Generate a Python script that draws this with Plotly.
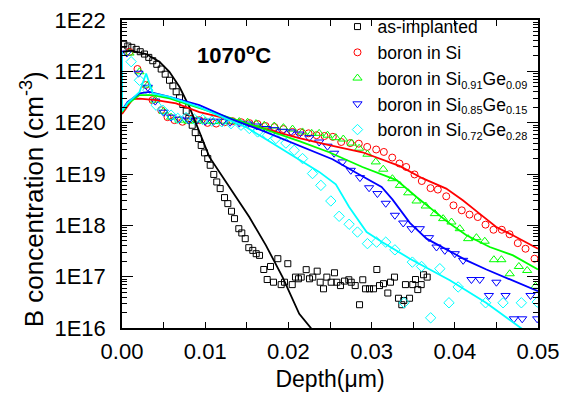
import plotly.graph_objects as go

# ---------------- data ----------------
as_x = [0.00022,0.0007,0.00118,0.00171,0.00219,0.0027,0.00322,0.0037,0.00418,0.00471,
        0.00519,0.00571,0.00611,0.00651,0.00691,0.00731,0.00772,0.00803,0.00844,0.0088,
        0.00919,0.00952,0.00992,0.01031,0.0106,0.01103,0.01139,0.0118,0.01232,0.01272,
        0.01316,0.01352,0.01404,0.0144,0.01481,0.01524,0.01572,0.01613,0.01653,0.01704,
        0.01745,0.01785,0.01821,0.01873,0.01913,0.01953,0.01993,0.02046,0.02085,0.02121,
        0.02154,0.02214,0.02254,0.02293,0.02346,0.02382,0.02422,0.02462,0.02514,0.02554,
        0.02582,0.02626,0.02674,0.02726,0.02755,0.02803,0.02855,0.02894,0.02927,0.02975,
        0.03023,0.03063,0.03095,0.03143,0.03195,0.03227,0.03275,0.03323,0.03363,0.03387,
        0.03407,0.03456,0.03495,0.03528,0.03555,0.03596,0.03624,0.03668]
as_y = [3.36e21,3.11e21,2.93e21,2.68e21,2.41e21,2.17e21,1.87e21,1.61e21,1.37e21,1.11e21,
        8.8e20,6.7e20,5.2e20,4.0e20,3.05e20,2.26e20,1.68e20,1.21e20,8.9e19,6.4e19,
        4.9e19,3.6e19,2.58e19,2.0e19,1.48e19,9.8e18,7.0e18,5.2e18,3.47e18,2.65e18,
        1.88e18,1.35e18,8.6e17,7.1e17,5.5e17,3.67e17,3.25e17,2.8e17,2.6e17,1.38e17,
        8.8e16,1.58e17,7.8e16,2.24e17,7.0e16,7.8e16,1.79e17,7.0e16,9.8e16,9.1e16,
        9.8e16,1.37e17,9.1e16,9.8e16,1.28e17,7.8e16,5.8e16,9.8e16,7.8e16,1.19e17,
        7.8e16,6.7e16,8.2e16,8.7e16,7.8e16,6.7e16,2.84e16,8.7e16,5.8e16,5.8e16,
        5.8e16,1.38e17,6.7e16,7.3e16,4.8e16,7.8e16,9.8e16,3.8e16,2.84e16,3.44e16,
        7.0e16,3.8e16,7.0e16,8.8e16,5.6e16,7.0e16,1.09e17,9.8e16]
as_fit_x = [0, 0.0011, 0.0029, 0.0045, 0.0057, 0.0069, 0.0081, 0.0093, 0.0105,
            0.0133, 0.0153, 0.0173, 0.0193, 0.0213, 0.0227, 0.0233]
as_fit_y = [2.38e21, 2.52e21, 2.17e21, 1.54e21, 9.8e20, 5.0e20, 2.03e20, 6.6e19, 2.15e19,
            4.47e18, 1.45e18, 4.07e17, 9.8e16, 1.89e16, 1.0e16, 6.5e15]

si_x = [0.0009,0.00186,0.00282,0.00367,0.00471,0.00547,0.00631,0.00727,0.00832,0.00931,
        0.01028,0.01132,0.01232,0.01328,0.01433,0.01532,0.01629,0.01725,0.01833,0.01941,
        0.02049,0.02145,0.02242,0.02338,0.02434,0.02534,0.02635,0.02743,0.02846,0.02947,
        0.03055,0.03147,0.03248,0.03335,0.03416,0.03516,0.03603,0.03708,0.03796,0.03897,
        0.03984,0.04084,0.04177,0.04276,0.04369,0.04465,0.04565,0.04658,0.04757,0.0485,0.04958]
si_y = [2.38e21,1.11e21,5.4e20,2.75e20,1.75e20,1.28e20,1.12e20,1.04e20,1.17e20,1.12e20,
        9.9e19,9.6e19,1.02e20,1.07e20,1.02e20,9.8e19,9.4e19,8.6e19,8.2e19,7.5e19,
        6.6e19,6.5e19,6.2e19,5.7e19,5.5e19,5.3e19,4.2e19,4.0e19,3.9e19,3.37e19,
        3.0e19,2.69e19,2.09e19,1.6e19,1.37e19,9.8e18,7.3e18,5.3e18,4.97e18,3.68e18,
        2.45e18,1.96e18,1.62e18,1.45e18,1.03e18,8.2e17,8.2e17,6.7e17,4.5e17,3.5e17,2.24e17]
si_fit_x = [0, 0.00066, 0.0013, 0.0021, 0.0041, 0.0065, 0.0093, 0.0129, 0.0165, 0.0213,
            0.0249, 0.0289, 0.0334, 0.03615, 0.03897, 0.04096, 0.04297, 0.04498, 0.04697, 0.05]
si_fit_y = [1.47e20, 2.1e20, 2.88e20, 2.94e20, 2.75e20, 2.37e20, 1.6e20, 1.17e20, 8.2e19, 5.0e19,
            3.64e19, 2.65e19, 1.42e19, 8.2e18, 5.2e18, 3.07e18, 1.69e18, 9.3e17, 6.4e17, 3.5e17]

ge09_x = [0.0009,0.0021,0.0031,0.004,0.005,0.0059,0.0069,0.008,0.009,0.01,
          0.011,0.0121,0.013,0.0141,0.0151,0.0161,0.0171,0.0183,0.0194,0.0205,
          0.0217,0.0228,0.0237,0.0247,0.0257,0.0266,0.0276,0.0285,0.0295,0.0305,
          0.0314,0.0325,0.0334,0.0344,0.0354,0.0365,0.0376,0.0386,0.0396,0.0406,
          0.0416,0.0426,0.0436,0.0447,0.0456,0.0466,0.0477,0.0487,0.0497]
ge09_y = [2.27e21,9.8e20,5.4e20,2.75e20,1.67e20,1.28e20,1.12e20,1.07e20,1.12e20,1.07e20,
          1.05e20,1.07e20,1.07e20,1.05e20,1.02e20,9.6e19,8.9e19,8.6e19,8.0e19,7.5e19,
          6.6e19,6.2e19,6.2e19,5.7e19,5.1e19,4.8e19,4.0e19,3.18e19,2.43e19,1.72e19,
          1.24e19,8.1e18,6.0e18,4.3e18,2.98e18,2.38e18,1.69e18,1.35e18,1.16e18,8.6e17,
          5.5e17,5.75e17,4.9e17,2.14e17,2.14e17,1.14e17,1.58e17,1.32e17,6.5e16]
ge09_fit_x = [0, 0.00066, 0.0021, 0.0037, 0.0057, 0.0093, 0.0153, 0.0213, 0.0249, 0.0289,
              0.033, 0.0354, 0.0374, 0.0394, 0.0414, 0.0442, 0.047, 0.05]
ge09_fit_y = [1.6e20, 2.3e20, 3.44e20, 3.44e20, 2.97e20, 1.92e20, 9.4e19, 4.36e19, 2.65e19, 1.37e19,
              7.6e18, 3.57e18, 1.96e18, 1.08e18, 6.4e17, 3.78e17, 2.6e17, 1.38e17]

ge15_x = [0.00058,0.00198,0.0031,0.004,0.005,0.0059,0.0069,0.008,0.009,0.01,
          0.011,0.0121,0.013,0.0141,0.0151,0.0162,0.0173,0.0183,0.0193,0.0203,
          0.0213,0.0225,0.0237,0.0247,0.0255,0.0265,0.0275,0.0286,0.0297,0.0307,
          0.0317,0.0328,0.0338,0.0348,0.0358,0.0369,0.0378,0.0388,0.04,0.041,
          0.042,0.043,0.0441,0.045,0.0461,0.0471,0.0481,0.0491,0.0499]
ge15_y = [2.27e21,9.2e20,4.9e20,2.63e20,1.6e20,1.28e20,1.17e20,1.12e20,1.12e20,1.07e20,
          1.07e20,1.07e20,1.02e20,9.8e19,9.4e19,8.6e19,7.7e19,7.3e19,6.8e19,6.6e19,
          6.0e19,5.1e19,4.2e19,3.48e19,2.54e19,1.72e19,1.18e19,8.5e18,5.4e18,4.16e18,
          2.69e18,1.57e18,1.11e18,8.6e17,8.6e17,5.75e17,3.78e17,3.25e17,2.8e17,2.08e17,
          8.8e16,8.8e16,4.3e16,7.8e16,4.3e16,1.51e16,1.51e16,4.3e16,1.51e16]
ge15_fit_x = [0, 0.00001, 0.00066, 0.0021, 0.0033, 0.0057, 0.0093, 0.0129, 0.0165, 0.0213,
              0.0253, 0.0283, 0.0312, 0.0325, 0.0346, 0.0366, 0.0394, 0.0414, 0.0438, 0.05]
ge15_fit_y = [2.48e21, 1.75e20, 2.51e20, 3.72e20, 3.99e20, 3.19e20, 2.19e20, 1.21e20, 7.4e19, 3.56e19,
              1.94e19, 1.02e19, 5.6e18, 3.2e18, 1.12e18, 5.5e17, 3.18e17, 2.08e17, 1.38e17, 5.2e16]

ge28_x = [0.0011,0.0021,0.0031,0.0041,0.0049,0.0059,0.0067,0.0077,0.0087,0.0097,
          0.0108,0.012,0.0131,0.0143,0.0153,0.0163,0.0175,0.0185,0.0197,0.0207,
          0.0217,0.0229,0.0239,0.0251,0.0261,0.0273,0.0283,0.0295,0.0306,0.0317,
          0.0328,0.0339,0.0349,0.036,0.0371,0.0382,0.0393,0.0404,0.0437,0.0458,0.048,0.0499]
ge28_y = [1.54e21,6.7e20,4.3e20,2.19e20,1.75e20,1.4e20,1.21e20,1.26e20,1.17e20,1.15e20,
          1.07e20,1.04e20,9.6e19,8.9e19,7.7e19,6.6e19,5.7e19,4.9e19,4.0e19,2.9e19,
          2.0e19,1.02e19,6.0e18,2.98e18,1.5e18,1.05e18,7.4e17,4.4e17,4.7e17,4.7e17,
          3.33e17,3.1e16,1.92e17,1.58e17,1.58e16,1.43e17,3.1e16,6.3e16,3.1e16,3.1e16,3.1e16,3.2e16]
ge28_fit_x = [0, 0.00001, 0.00066, 0.0015, 0.0021, 0.0029, 0.0037, 0.0057, 0.0093, 0.0129,
              0.0149, 0.0177, 0.0213, 0.0237, 0.0257, 0.0273, 0.0294, 0.0313, 0.0346, 0.0394,
              0.0438, 0.048, 0.049]
ge28_fit_y = [2.38e21, 1.68e20, 2.4e20, 3.29e20, 3.94e20, 9.1e20, 3.72e20, 3.19e20, 2.0e20, 1.12e20,
              8.2e19, 4.36e19, 1.94e19, 1.1e19, 6.3e18, 2.27e18, 7.4e17, 4.7e17, 2.24e17, 8.5e16,
              3.08e16, 9.7e15, 7.5e15]

y_tick_vals = [1e16, 1e17, 1e18, 1e19, 1e20, 1e21, 1e22]
y_tick_text = ["1E16", "1E17", "1E18", "1E19", "1E20", "1E21", "1E22"]
x_tick_vals = [0.0, 0.01, 0.02, 0.03, 0.04, 0.05]
x_tick_text = ["0.00", "0.01", "0.02", "0.03", "0.04", "0.05"]

SUB = "<sub><span style='font-size:11px'>{}</span></sub>"
names = ["as-implanted", "boron in Si",
         "boron in Si" + SUB.format("0.91") + "Ge" + SUB.format("0.09"),
         "boron in Si" + SUB.format("0.85") + "Ge" + SUB.format("0.15"),
         "boron in Si" + SUB.format("0.72") + "Ge" + SUB.format("0.28")]

# ---------------- figure ----------------
FONT = "Liberation Sans, Arial, sans-serif"
fig = go.Figure()

series = [
    (as_x, as_y, as_fit_x, as_fit_y, "black", "square-open", 6),
    (si_x, si_y, si_fit_x, si_fit_y, "#FF0000", "circle-open", 7),
    (ge09_x, ge09_y, ge09_fit_x, ge09_fit_y, "#00FF00", "triangle-up-open", 8),
    (ge15_x, ge15_y, ge15_fit_x, ge15_fit_y, "#0000FF", "triangle-down-open", 8),
    (ge28_x, ge28_y, ge28_fit_x, ge28_fit_y, "#00FFFF", "diamond-open", 8),
]

for (mx, my, lx, ly, col, sym, sz), nm in zip(series, names):
    fig.add_trace(go.Scatter(x=mx, y=my, mode="markers", name=nm,
                             marker=dict(symbol=sym, size=sz, color=col,
                                         line=dict(color=col, width=1))))
for (mx, my, lx, ly, col, sym, sz), nm in zip(series, names):
    fig.add_trace(go.Scatter(x=lx, y=ly, mode="lines", showlegend=False,
                             line=dict(color=col, width=1.8)))

minor_y = []
for e in range(16, 22):
    for m in range(2, 10):
        minor_y.append(float(m) * 10.0 ** e)

fig.update_layout(
    width=562, height=396,
    margin=dict(l=122, r=24, t=20, b=68, pad=0, autoexpand=False),
    paper_bgcolor="white", plot_bgcolor="white",
    font=dict(family=FONT, color="black"),
    showlegend=True,
    legend=dict(x=0.518, y=1.0367, xanchor="left", yanchor="top",
                bgcolor="rgba(0,0,0,0)", borderwidth=0,
                font=dict(family=FONT, size=17.5, color="black"),
                tracegroupgap=0, itemwidth=30),
    xaxis=dict(range=[0, 0.05], tickmode="array", tickvals=x_tick_vals, ticktext=x_tick_text,
               ticks="inside", ticklen=6, tickwidth=1.2, tickcolor="black",
               minor=dict(dtick=0.005, tick0=0, ticks="inside", ticklen=6, tickwidth=1.2,
                          tickcolor="black", showgrid=False),
               showline=True, linecolor="black", linewidth=1.5, mirror="ticks",
               showgrid=False, zeroline=False, ticklabeloverflow="allow",
               tickfont=dict(family=FONT, size=22, color="black"),
               ticklabelstandoff=3,
               title=dict(text="Depth(\u03bcm)", font=dict(family=FONT, size=23, color="black"),
                          standoff=8)),
    yaxis=dict(type="log", range=[16, 22], tickmode="array", tickvals=y_tick_vals,
               ticktext=y_tick_text,
               ticks="inside", ticklen=11, tickwidth=1.2, tickcolor="black",
               minor=dict(tickmode="array", tickvals=minor_y, ticks="inside", ticklen=5,
                          tickwidth=1, tickcolor="black", showgrid=False),
               showline=True, linecolor="black", linewidth=1.5, mirror="ticks",
               showgrid=False, zeroline=False, ticklabeloverflow="allow",
               tickfont=dict(family=FONT, size=22, color="black"),
               ticklabelstandoff=10),
)

# y-axis title as a rotated annotation (placed like the reference)
fig.add_annotation(text="B concentration (cm<sup>-3</sup>)", textangle=-90,
                   xref="paper", yref="paper", x=-0.213, y=0.419,
                   xanchor="center", yanchor="middle", showarrow=False,
                   font=dict(family=FONT, size=26, color="black"))

fig.add_annotation(text="<b>1070<sup>o</sup>C</b>", x=0.0135, y=21.34, xref="x", yref="y",
                   showarrow=False, font=dict(family=FONT, size=22, color="black"))

fig.write_html("out.html", config={"displayModeBar": False},
               post_script="document.body.style.margin='0px';document.body.style.overflow='hidden';")
